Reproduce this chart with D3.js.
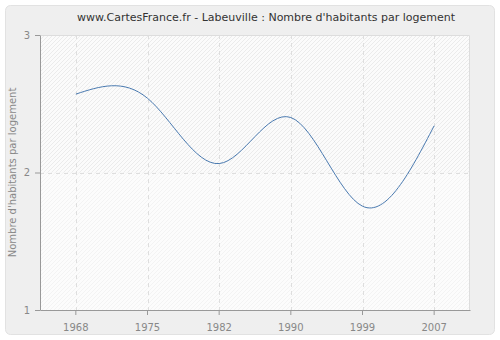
<!DOCTYPE html>
<html><head><meta charset="utf-8">
<script src="https://cdn.jsdelivr.net/npm/d3@7"></script>
<style>body{margin:0;background:#fff}svg{display:block}</style>
</head><body>
<svg id="c" width="500" height="340"></svg>
<script>
const years = ["1968","1975","1982","1990","1999","2007"];
const values = [2.57, 2.54, 2.065, 2.40, 1.755, 2.34];
const yTicks = [1, 2, 3];
const title = "www.CartesFrance.fr - Labeuville : Nombre d'habitants par logement";
const yLabel = "Nombre d'habitants par logement";

const svg = d3.select("#c");
const m = {l:40, r:470, t:35, b:310};
const font = "DejaVu Sans, Verdana, sans-serif";

const defs = svg.append("defs");
const p1 = defs.append("pattern").attr("id","h1").attr("patternUnits","userSpaceOnUse").attr("width",4).attr("height",4);
p1.append("rect").attr("width",4).attr("height",4).attr("fill","#fbfbfb");
p1.append("path").attr("d","M-1,1 L1,-1 M0,4 L4,0 M3,5 L5,3").attr("stroke","#ebebeb").attr("stroke-width",1);
const p2 = defs.append("pattern").attr("id","h2").attr("patternUnits","userSpaceOnUse").attr("width",4).attr("height",4);
p2.append("rect").attr("width",4).attr("height",4).attr("fill","#fcfcfc");
p2.append("path").attr("d","M-1,1 L1,-1 M0,4 L4,0 M3,5 L5,3").attr("stroke","#f3f3f3").attr("stroke-width",1);

svg.append("rect").attr("x",5.5).attr("y",5.5).attr("width",489).attr("height",329).attr("rx",5)
  .attr("fill","#efefef").attr("stroke","#e2e2e2");

const x = d3.scaleBand().domain(years).range([m.l, m.r]);
const y = d3.scaleLinear().domain([1,3]).range([m.b, m.t]);
const cx = d => x(d) + x.bandwidth()/2;

svg.append("rect").attr("x",m.l).attr("y",m.t).attr("width",m.r-m.l).attr("height",y(2)-m.t).attr("fill","url(#h1)");
svg.append("rect").attr("x",m.l).attr("y",y(2)).attr("width",m.r-m.l).attr("height",m.b-y(2)).attr("fill","url(#h2)");
svg.append("path").attr("d",`M${m.l},${m.t+0.5}H${m.r-0.5}V${m.b}`).attr("fill","none").attr("stroke","#dddddd");

// grid
svg.append("g").selectAll("line").data(years).join("line")
  .attr("x1",d=>Math.round(cx(d))+0.5).attr("x2",d=>Math.round(cx(d))+0.5)
  .attr("y1",m.t).attr("y2",m.b).attr("stroke","#dedede").attr("stroke-dasharray","4,4");
svg.append("g").selectAll("line").data(yTicks.filter(v=>v>1&&v<3)).join("line")
  .attr("x1",m.l).attr("x2",m.r).attr("y1",d=>Math.round(y(d))+0.5).attr("y2",d=>Math.round(y(d))+0.5)
  .attr("stroke","#dedede").attr("stroke-dasharray","4,4");

// axes
const xa = svg.append("g").attr("transform",`translate(0,${m.b})`)
  .call(d3.axisBottom(x).tickSize(5).tickSizeOuter(0));
const ya = svg.append("g").attr("transform",`translate(${m.l},0)`)
  .call(d3.axisLeft(y).tickValues(yTicks).tickFormat(d3.format("d")).tickSize(5).tickSizeOuter(0));
[xa,ya].forEach(a=>{
  a.select(".domain").attr("stroke","#999");
  a.selectAll(".tick line").attr("stroke","#999");
  a.selectAll("text").attr("fill","#888").attr("font-family",font).attr("font-size",10);
});
xa.selectAll("text").attr("dy","1.25em");
ya.selectAll("text").attr("dx","-0.2em");

// line
svg.append("path").datum(values)
  .attr("d", d3.line().x((d,i)=>cx(years[i])).y(d=>y(d)).curve(d3.curveNatural))
  .attr("fill","none").attr("stroke","#4a7ab0").attr("stroke-width",1);

svg.append("text").attr("x",266).attr("y",21).attr("text-anchor","middle")
  .attr("font-family",font).attr("font-size",11).attr("fill","#333").text(title);
svg.append("text").attr("transform",`translate(16,${(m.t+m.b)/2}) rotate(-90)`).attr("text-anchor","middle")
  .attr("font-family",font).attr("font-size",10).attr("fill","#888").text(yLabel);
</script>
</body></html>
